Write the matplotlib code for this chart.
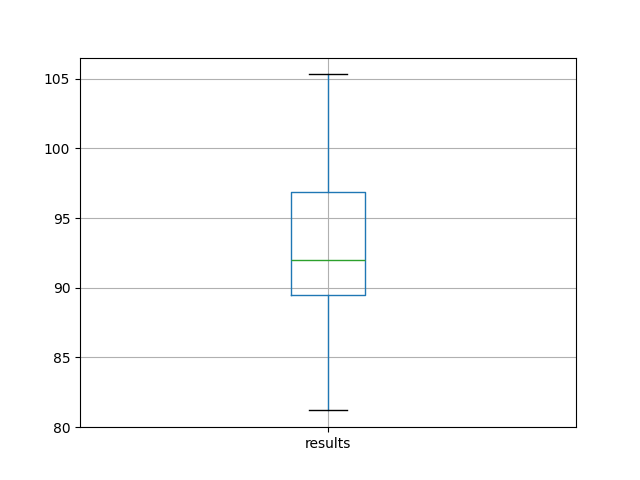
import pandas as pd
import matplotlib
matplotlib.use("Agg")
import matplotlib.pyplot as plt

# values (min, q1, median, q3, max)
results = [81.2, 89.5, 92.0, 96.9, 105.3]

df = pd.DataFrame({'results': results})
fig = plt.figure(figsize=(6.4, 4.8), dpi=100)
ax = fig.add_subplot(111)
df.boxplot(column='results', ax=ax)
fig.savefig('out.png')
